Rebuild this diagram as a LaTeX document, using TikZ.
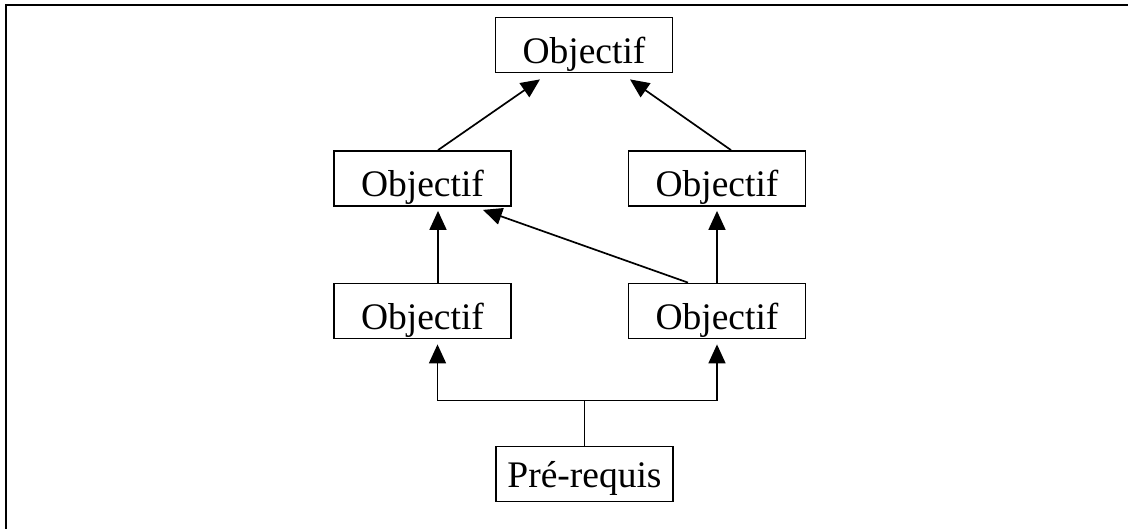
\documentclass[tikz,border=0pt]{standalone}
\usepackage{fontspec}
\setmainfont{Liberation Serif}
\usetikzlibrary{arrows.meta}
\begin{document}
\begin{tikzpicture}[x=1pt,y=-1pt,
  box/.style={draw=black,line width=1.8pt,inner sep=0pt,minimum width=177pt,minimum height=55pt,
    font=\fontsize{37.5pt}{40pt}\selectfont,text height=40pt,text depth=4pt},
  prebox/.style={box,text height=35pt,text depth=9pt},
  arr/.style={line width=1.7pt,-{Triangle[length=19pt,width=17pt]}},
  link/.style={line width=1.7pt}]
\useasboundingbox (0,0) rectangle (1128,528);
\draw[line width=2.5pt] (6,532) -- (6,5) -- (1132,5);
\node[box] (top) at (584,45) {Objectif};
\node[box] (ml) at (422.5,178.5) {Objectif};
\node[box] (mr) at (717,178.5) {Objectif};
\node[box] (ll) at (422.5,311) {Objectif};
\node[box] (lr) at (717,311) {Objectif};
\node[prebox] (pre) at (584.5,474) {Pré-requis};
\coordinate (j) at ([yshift=45pt]pre.north);
\draw[arr] ([xshift=15.5pt]ml.north) -- ([xshift=-44pt,yshift=-6pt]top.south);
\draw[arr] ([xshift=14pt]mr.north) -- ([xshift=46pt,yshift=-6pt]top.south);
\draw[arr] ([xshift=15.5pt]ll.north) -- ([xshift=15.5pt,yshift=-4pt]ml.south);
\draw[arr] (lr.north) -- ([yshift=-4pt]mr.south);
\draw[arr] ([xshift=-29pt]lr.north) -- ([xshift=60.5pt,yshift=-3pt]ml.south);
\draw[link] (pre.north) -- (j);
\draw[arr] (j) -| ([xshift=15pt,yshift=-5pt]ll.south);
\draw[arr] (j) -| ([yshift=-5pt]lr.south);
\end{tikzpicture}
\end{document}
